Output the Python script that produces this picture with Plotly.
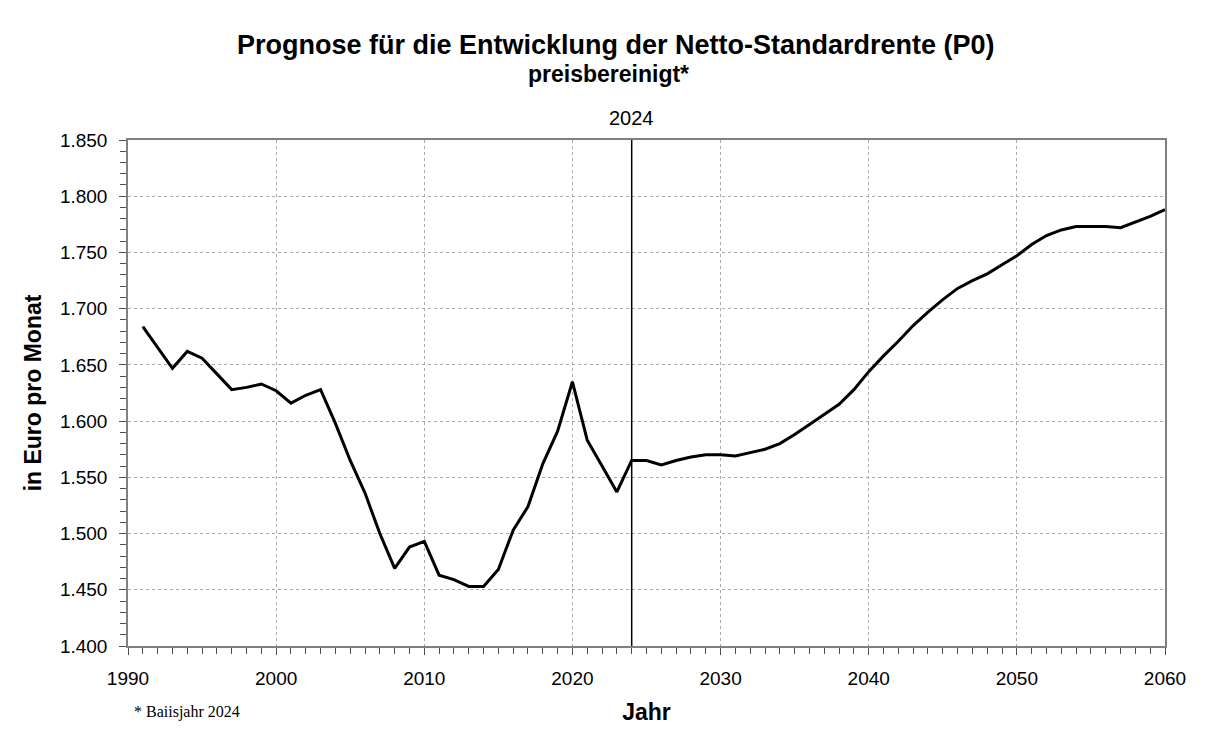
import plotly.graph_objects as go

years = list(range(1991, 2061))
values = [
    1684, 1665, 1647, 1662, 1656, 1642, 1628, 1630, 1633, 1627,
    1616, 1623, 1628, 1598, 1565, 1536, 1500, 1469, 1488, 1493,
    1463, 1459, 1453, 1453, 1468, 1503, 1524, 1562, 1591, 1635,
    1583, 1560, 1537, 1565, 1565, 1561, 1565, 1568, 1570, 1570,
    1569, 1572, 1575, 1580, 1588, 1597, 1606, 1615, 1628, 1644,
    1658, 1671, 1685, 1697, 1708, 1718, 1725, 1731, 1739, 1747,
    1757, 1765, 1770, 1773, 1773, 1773, 1772, 1777, 1782, 1788,
]
marker_year = 2024

title = "Prognose für die Entwicklung der Netto-Standardrente (P0)"
subtitle = "preisbereinigt*"
footnote = "* Baiisjahr 2024"

FONT = "Liberation Sans, Arial, sans-serif"

fig = go.Figure()
fig.add_trace(go.Scatter(
    x=years, y=values, mode="lines",
    line=dict(color="black", width=3),
    showlegend=False, hoverinfo="x+y",
))

fig.add_shape(type="line", xref="x", yref="paper",
              x0=marker_year, x1=marker_year, y0=0, y1=1,
              line=dict(color="black", width=1.5))

axis_common = dict(
    showline=True, linecolor="#808080", linewidth=1.5, mirror=True,
    showgrid=True, gridcolor="#aaaaaa", griddash="dot", gridwidth=1,
    ticks="outside", ticklen=7, tickcolor="#505050", tickwidth=1,
    tickfont=dict(family=FONT, size=19, color="black"),
    zeroline=False,
)

fig.update_xaxes(
    range=[1990, 2060], dtick=10, tick0=1990,
    minor=dict(ticks="outside", dtick=1, ticklen=6, tickcolor="#505050", showgrid=False),
    ticklabelstandoff=7,
    title=dict(text="<b>Jahr</b>", font=dict(family=FONT, size=23, color="black"), standoff=16),
    **axis_common,
)
fig.update_yaxes(
    range=[1400, 1850], dtick=50, tick0=1400, tickformat=",d",
    minor=dict(ticks="outside", dtick=10, ticklen=6, tickcolor="#505050", showgrid=False),
    ticklabelstandoff=8,
    title=dict(text="<b>in Euro pro Monat</b>", font=dict(family=FONT, size=23, color="black"), standoff=12),
    **axis_common,
)

fig.update_layout(
    width=1194, height=736,
    margin=dict(l=120, r=37, t=132, b=98),
    paper_bgcolor="white", plot_bgcolor="white",
    separators=",.",
    font=dict(family=FONT, color="black"),
    annotations=[
        dict(text="<b>" + title + "</b>", xref="paper", yref="paper",
             x=0.4706, y=1.188, xanchor="center", yanchor="middle", showarrow=False,
             font=dict(family=FONT, size=27, color="black")),
        dict(text="<b>" + subtitle + "</b>", xref="paper", yref="paper",
             x=0.463, y=1.130, xanchor="center", yanchor="middle", showarrow=False,
             font=dict(family=FONT, size=23, color="black")),
        dict(text=str(marker_year), xref="x", yref="paper",
             x=marker_year, y=1.043, xanchor="center", yanchor="middle", showarrow=False,
             font=dict(family=FONT, size=20, color="black")),
        dict(text=footnote, xref="paper", yref="paper",
             x=0.004, y=-0.13, xanchor="left", yanchor="middle", showarrow=False,
             font=dict(family="Liberation Serif, Times New Roman, serif", size=16, color="black")),
    ],
)

fig.write_html("out.html")
